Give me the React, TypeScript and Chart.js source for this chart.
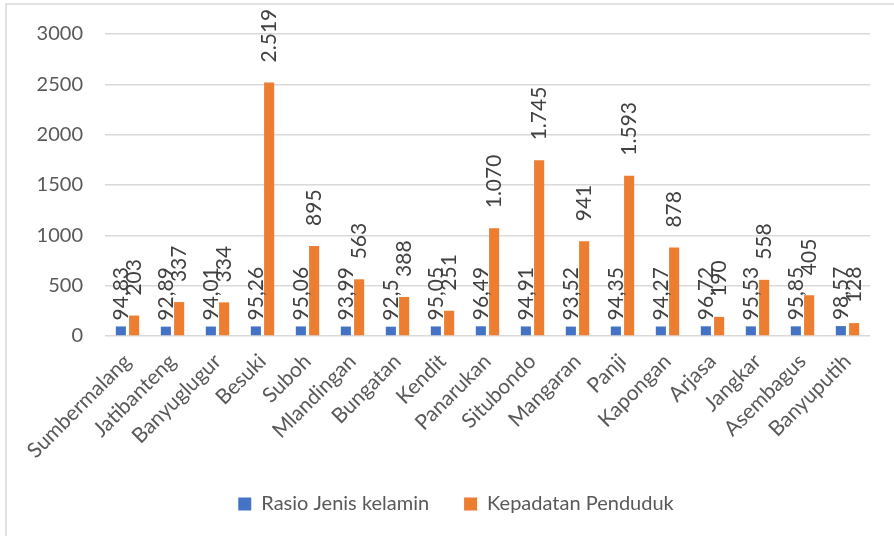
import React, { useEffect, useRef } from "react";
import { Chart, registerables } from "chart.js";

Chart.register(...registerables);

const categories = [
  "Sumbermalang", "Jatibanteng", "Banyuglugur", "Besuki", "Suboh", "Mlandingan",
  "Bungatan", "Kendit", "Panarukan", "Situbondo", "Mangaran", "Panji", "Kapongan",
  "Arjasa", "Jangkar", "Asembagus", "Banyuputih",
];
const rasioJenisKelamin = [
  94.83, 92.89, 94.01, 95.26, 95.06, 93.99, 92.5, 95.05, 96.49, 94.91, 93.52,
  94.35, 94.27, 96.72, 95.53, 95.85, 98.57,
];
const kepadatanPenduduk = [
  203, 337, 334, 2519, 895, 563, 388, 251, 1070, 1745, 941, 1593, 878, 190, 558,
  405, 128,
];
const yTicks = [0, 500, 1000, 1500, 2000, 2500, 3000];

const FONT = "Lato, 'Open Sans', sans-serif";

function fmtRasio(v: number) {
  return String(v).replace(".", ",");
}
function fmtKepadatan(v: number) {
  return v >= 1000 ? String(Math.floor(v / 1000)) + "." + String(v % 1000).padStart(3, "0") : String(v);
}

const borderPlugin = {
  id: "frame",
  beforeDraw(chart: any) {
    const ctx = chart.ctx;
    ctx.save();
    ctx.fillStyle = "#ffffff";
    ctx.fillRect(0, 0, chart.width, chart.height);
    ctx.strokeStyle = "#d9d9d9";
    ctx.lineWidth = 1.5;
    ctx.strokeRect(6, 4, chart.width + 20, chart.height + 20);
    ctx.restore();
  },
};

const legendShiftPlugin = {
  id: "legendShift",
  afterLayout(chart: any) {
    const lg = chart.legend;
    if (lg) {
      lg.left += 21;
      lg.right += 21;
    }
  },
};

const labelPlugin = {
  id: "barLabels",
  afterDatasetsDraw(chart: any) {
    const ctx = chart.ctx;
    ctx.save();
    ctx.font = `21px ${FONT}`;
    ctx.fillStyle = "#404040";
    ctx.textAlign = "left";
    ctx.textBaseline = "middle";
    chart.data.datasets.forEach((ds: any, di: number) => {
      const meta = chart.getDatasetMeta(di);
      meta.data.forEach((bar: any, i: number) => {
        const v = ds.data[i];
        const txt = di === 0 ? fmtRasio(v) : fmtKepadatan(v);
        const off = di === 0 ? 6 : 20;
        ctx.save();
        ctx.translate(bar.x, bar.y - off);
        ctx.rotate(-Math.PI / 2);
        ctx.fillText(txt, 0, 0);
        ctx.restore();
      });
    });
    ctx.restore();
  },
};

export default function App() {
  const ref = useRef<HTMLCanvasElement | null>(null);
  useEffect(() => {
    if (!ref.current) return;
    const chart = new Chart(ref.current, {
      type: "bar",
      data: {
        labels: categories,
        datasets: [
          {
            label: "Rasio Jenis kelamin",
            data: rasioJenisKelamin,
            backgroundColor: "#4472C4",
            categoryPercentage: 0.59,
            barPercentage: 0.76,
          },
          {
            label: "Kepadatan Penduduk",
            data: kepadatanPenduduk,
            backgroundColor: "#ED7D31",
            categoryPercentage: 0.59,
            barPercentage: 0.76,
          },
        ],
      },
      options: {
        responsive: false,
        animation: false,
        layout: { padding: { left: 0, right: 24, top: 32, bottom: 12 } },
        plugins: {
          legend: {
            position: "bottom",
            labels: {
              boxWidth: 13,
              boxHeight: 13,
              padding: 35,
              color: "#595959",
              font: { family: FONT, size: 20 },
            },
          },
          tooltip: { enabled: false },
        },
        scales: {
          x: {
            grid: { display: false },
            border: { display: false },
            ticks: {
              color: "#595959",
              font: { family: FONT, size: 21 },
              minRotation: 45,
              maxRotation: 45,
              autoSkip: false,
              padding: 5,
            },
            afterFit(scale: any) {
              scale.height = 123;
            },
          },
          y: {
            min: 0,
            max: 3000,
            afterBuildTicks(scale: any) {
              scale.ticks = yTicks.map((v) => ({ value: v }));
            },
            grid: { color: "#d9d9d9", lineWidth: 1.5, drawTicks: false },
            border: { display: false },
            ticks: {
              color: "#595959",
              font: { family: FONT, size: 20 },
              padding: 22,
              callback: (v: any) => String(v),
            },
            afterFit(scale: any) {
              scale.width = 105;
            },
          },
        },
      },
      plugins: [borderPlugin, legendShiftPlugin, labelPlugin],
    });
    return () => chart.destroy();
  }, []);
  return (
    <div style={{ position: "fixed", left: 0, top: 0, width: 894, height: 536 }}>
      <canvas ref={ref} width={894} height={536} />
    </div>
  );
}
